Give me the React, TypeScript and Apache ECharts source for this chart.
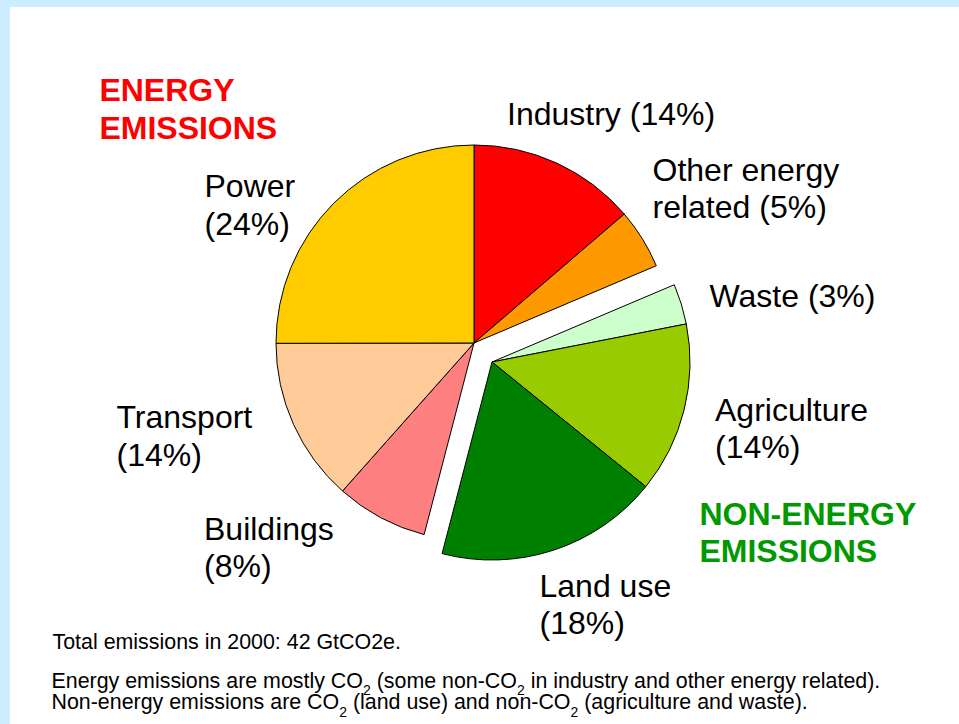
import React, { useEffect, useRef } from 'react';
import * as echarts from 'echarts';

// ---- data (clockwise from 12 o'clock) ----
const categories = ['Industry', 'Other energy\nrelated', 'Waste', 'Agriculture', 'Land use', 'Buildings', 'Transport', 'Power'];
const sliceShares = [13.7, 4.9, 3.3, 13.9, 18.2, 7.5, 13.4, 25.0];
const labelPercents = [14, 5, 3, 14, 18, 8, 14, 24];
const isNonEnergy = [false, false, true, true, true, false, false, false];

const groupTitles = ['ENERGY\nEMISSIONS', 'NON-ENERGY\nEMISSIONS'];
const footTotal = 'Total emissions in 2000: 42 GtCO2e.';
const footNotes = [
  'Energy emissions are mostly CO{sub|2} (some non-CO{sub|2} in industry and other energy related).',
  'Non-energy emissions are CO{sub|2} (land use) and non-CO{sub|2} (agriculture and waste).',
];

// ---- styles / layout ----
const sliceColors = ['#FF0000', '#FF9900', '#CCFFCC', '#99CC00', '#008000', '#FF8080', '#FFCC99', '#FFCC00'];
const labelJoin = [' ', ' ', ' ', '\n', '\n', '\n', '\n', '\n'];
const FONT = '"Liberation Sans", Arial, sans-serif';
const FS = 32;
const LH = 37.5;
const CENTRAL = 0.3465;
// [left x, first-line baseline y]
const labelAnchors: number[][] = [
  [507, 125], [652.5, 180.7], [709.5, 307.3], [715, 420.7],
  [539.5, 596.7], [204, 540], [116.5, 428.3], [204.5, 197.3],
];
const topFromBaseline = (b: number, lh: number, fs: number) => b - lh / 2 - CENTRAL * fs;

const RADIUS = 198;
const energyCenter = [474, 343];
const nonEnergyCenter = [492, 362];

function makeSeries(nonEnergy: boolean, center: number[]) {
  return {
    type: 'pie',
    center,
    radius: RADIUS,
    startAngle: 90,
    clockwise: true,
    silent: true,
    avoidLabelOverlap: false,
    minAngle: 0,
    z: 3,
    labelLine: { show: false },
    label: {
      show: true,
      position: 'outside',
      fontFamily: FONT,
      fontSize: FS,
      lineHeight: LH,
      color: '#000',
      overflow: 'none',
      formatter: (p: any) => `${categories[p.dataIndex]}${labelJoin[p.dataIndex]}(${labelPercents[p.dataIndex]}%)`,
    },
    labelLayout: (p: any) => {
      const a = labelAnchors[p.dataIndex];
      return { x: a[0], y: topFromBaseline(a[1], LH, FS), align: 'left', verticalAlign: 'top' };
    },
    emphasis: { disabled: true },
    data: categories.map((name, i) => {
      const mine = isNonEnergy[i] === nonEnergy;
      return {
        name,
        value: sliceShares[i],
        itemStyle: mine
          ? { color: sliceColors[i], borderColor: '#000', borderWidth: 1 }
          : { color: 'rgba(0,0,0,0)', borderWidth: 0, borderColor: 'rgba(0,0,0,0)' },
        label: { show: mine },
      };
    }),
  };
}

export default function App() {
  const ref = useRef<HTMLDivElement>(null);
  useEffect(() => {
    if (!ref.current) return;
    const chart = echarts.init(ref.current, undefined, { renderer: 'svg' });
    const titleFs = 32;
    const footFs = 21.4;
    chart.setOption({
      animation: false,
      backgroundColor: '#CCECFF',
      graphic: [
        { type: 'rect', z: -10, silent: true, shape: { x: 10, y: 7, width: 949, height: 717 }, style: { fill: '#FFFFFF' } },
        {
          type: 'text', z: 5, silent: true, x: 99.4, y: topFromBaseline(100.7, 38.5, titleFs),
          style: { text: groupTitles[0], font: `bold ${titleFs}px ${FONT}`, lineHeight: 38.5, fill: '#FF0000', align: 'left', verticalAlign: 'top' },
        },
        {
          type: 'text', z: 5, silent: true, x: 699.4, y: topFromBaseline(525, 36.7, titleFs),
          style: { text: groupTitles[1], font: `bold ${titleFs}px ${FONT}`, lineHeight: 36.7, fill: '#009900', align: 'left', verticalAlign: 'top' },
        },
        {
          type: 'text', z: 5, silent: true, x: 52.5, y: topFromBaseline(649.7, 22, footFs),
          style: { text: footTotal, font: `${footFs}px ${FONT}`, lineHeight: 22, fill: '#000', align: 'left', verticalAlign: 'top' },
        },
        {
          type: 'text', z: 5, silent: true, x: 51.5, y: topFromBaseline(688, 21.3, footFs),
          style: {
            text: footNotes.join('\n'),
            fontFamily: FONT,
            fontSize: footFs,
            lineHeight: 21.3,
            fill: '#000',
            align: 'left',
            verticalAlign: 'top',
            rich: {
              sub: { fontFamily: FONT, fontSize: 14, height: 2, verticalAlign: 'bottom', fill: '#000' },
            },
          },
        },
      ],
      series: [makeSeries(false, energyCenter), makeSeries(true, nonEnergyCenter)],
    });
    return () => chart.dispose();
  }, []);
  return <div ref={ref} style={{ position: 'fixed', left: 0, top: 0, width: 959, height: 724 }} />;
}
